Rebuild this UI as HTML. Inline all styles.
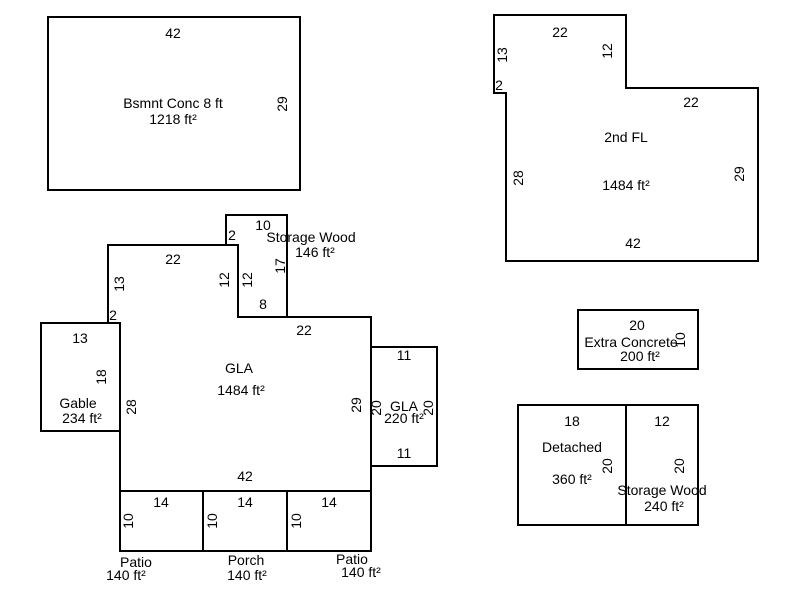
<!DOCTYPE html>
<html><head><meta charset="utf-8"><style>
html,body{margin:0;padding:0;background:#fff;}
svg{display:block;}
text{font-family:"Liberation Sans",Arial,sans-serif;font-size:14px;fill:#000;}
</style></head><body>
<svg width="800" height="600" viewBox="0 0 800 600" xmlns="http://www.w3.org/2000/svg">
<g fill="none" stroke="#000" stroke-width="2">
<rect x="48" y="17" width="252" height="173"/>
<polygon points="494,15 626,15 626,88 758,88 758,261 506,261 506,93 494,93"/>
<rect x="578" y="310" width="120" height="59"/>
<rect x="518" y="405" width="108" height="120"/>
<rect x="626" y="405" width="72" height="120"/>
<polygon points="108,245 238,245 238,317 371,317 371,491 120,491 120,323 108,323"/>
<polyline points="226,245 226,215 287,215 287,317 238,317 238,245"/>
<rect x="41" y="323" width="79" height="108"/>
<rect x="371" y="347" width="66" height="119"/>
<rect x="120" y="491" width="83" height="60"/>
<rect x="203" y="491" width="84" height="60"/>
<rect x="287" y="491" width="84" height="60"/>
</g>
<g text-anchor="middle">
<text x="173" y="38">42</text>
<text x="173" y="108">Bsmnt Conc 8 ft</text>
<text x="173" y="124">1218 ft²</text>
<text transform="translate(283,104) rotate(-90)" y="4">29</text>
<text x="560" y="37">22</text>
<text transform="translate(503,55) rotate(-90)" y="4">13</text>
<text x="499" y="90">2</text>
<text transform="translate(608,51) rotate(-90)" y="4">12</text>
<text x="691" y="107">22</text>
<text x="626" y="142">2nd FL</text>
<text x="626" y="190">1484 ft²</text>
<text transform="translate(519,178) rotate(-90)" y="4">28</text>
<text transform="translate(740,174) rotate(-90)" y="4">29</text>
<text x="633" y="248">42</text>
<text x="637" y="330">20</text>
<text x="631" y="347">Extra Concrete</text>
<text x="640" y="361">200 ft²</text>
<text transform="translate(681,340) rotate(-90)" y="4">10</text>
<text x="572" y="426">18</text>
<text x="572" y="452">Detached</text>
<text x="572" y="484">360 ft²</text>
<text transform="translate(608,466) rotate(-90)" y="4">20</text>
<text x="662" y="426">12</text>
<text transform="translate(680,466) rotate(-90)" y="4">20</text>
<text x="662" y="495">Storage Wood</text>
<text x="664" y="511">240 ft²</text>
<text x="263" y="230">10</text>
<text x="232" y="240">2</text>
<text x="311" y="242">Storage Wood</text>
<text x="315" y="257">146 ft²</text>
<text transform="translate(281,266) rotate(-90)" y="4">17</text>
<text transform="translate(248,280) rotate(-90)" y="4">12</text>
<text x="263" y="309">8</text>
<text x="173" y="264">22</text>
<text transform="translate(120,284) rotate(-90)" y="4">13</text>
<text transform="translate(225,280) rotate(-90)" y="4">12</text>
<text x="113" y="320">2</text>
<text x="304" y="335">22</text>
<text x="239" y="373">GLA</text>
<text x="241" y="395">1484 ft²</text>
<text transform="translate(132,407) rotate(-90)" y="4">28</text>
<text transform="translate(357,405) rotate(-90)" y="4">29</text>
<text x="245" y="481">42</text>
<text x="80" y="343">13</text>
<text transform="translate(102,377) rotate(-90)" y="4">18</text>
<text x="78" y="408">Gable</text>
<text x="82" y="423">234 ft²</text>
<text x="404" y="360">11</text>
<text transform="translate(377,408) rotate(-90)" y="4">20</text>
<text x="404" y="411">GLA</text>
<text x="404" y="423">220 ft²</text>
<text transform="translate(429,408) rotate(-90)" y="4">20</text>
<text x="404" y="458">11</text>
<text x="161" y="507">14</text>
<text x="245" y="507">14</text>
<text x="329" y="507">14</text>
<text transform="translate(129,521) rotate(-90)" y="4">10</text>
<text transform="translate(213,521) rotate(-90)" y="4">10</text>
<text transform="translate(297,521) rotate(-90)" y="4">10</text>
<text x="136" y="567">Patio</text>
<text x="126" y="580">140 ft²</text>
<text x="246" y="565">Porch</text>
<text x="247" y="580">140 ft²</text>
<text x="352" y="564">Patio</text>
<text x="361" y="577">140 ft²</text>
</g>
</svg>
</body></html>
